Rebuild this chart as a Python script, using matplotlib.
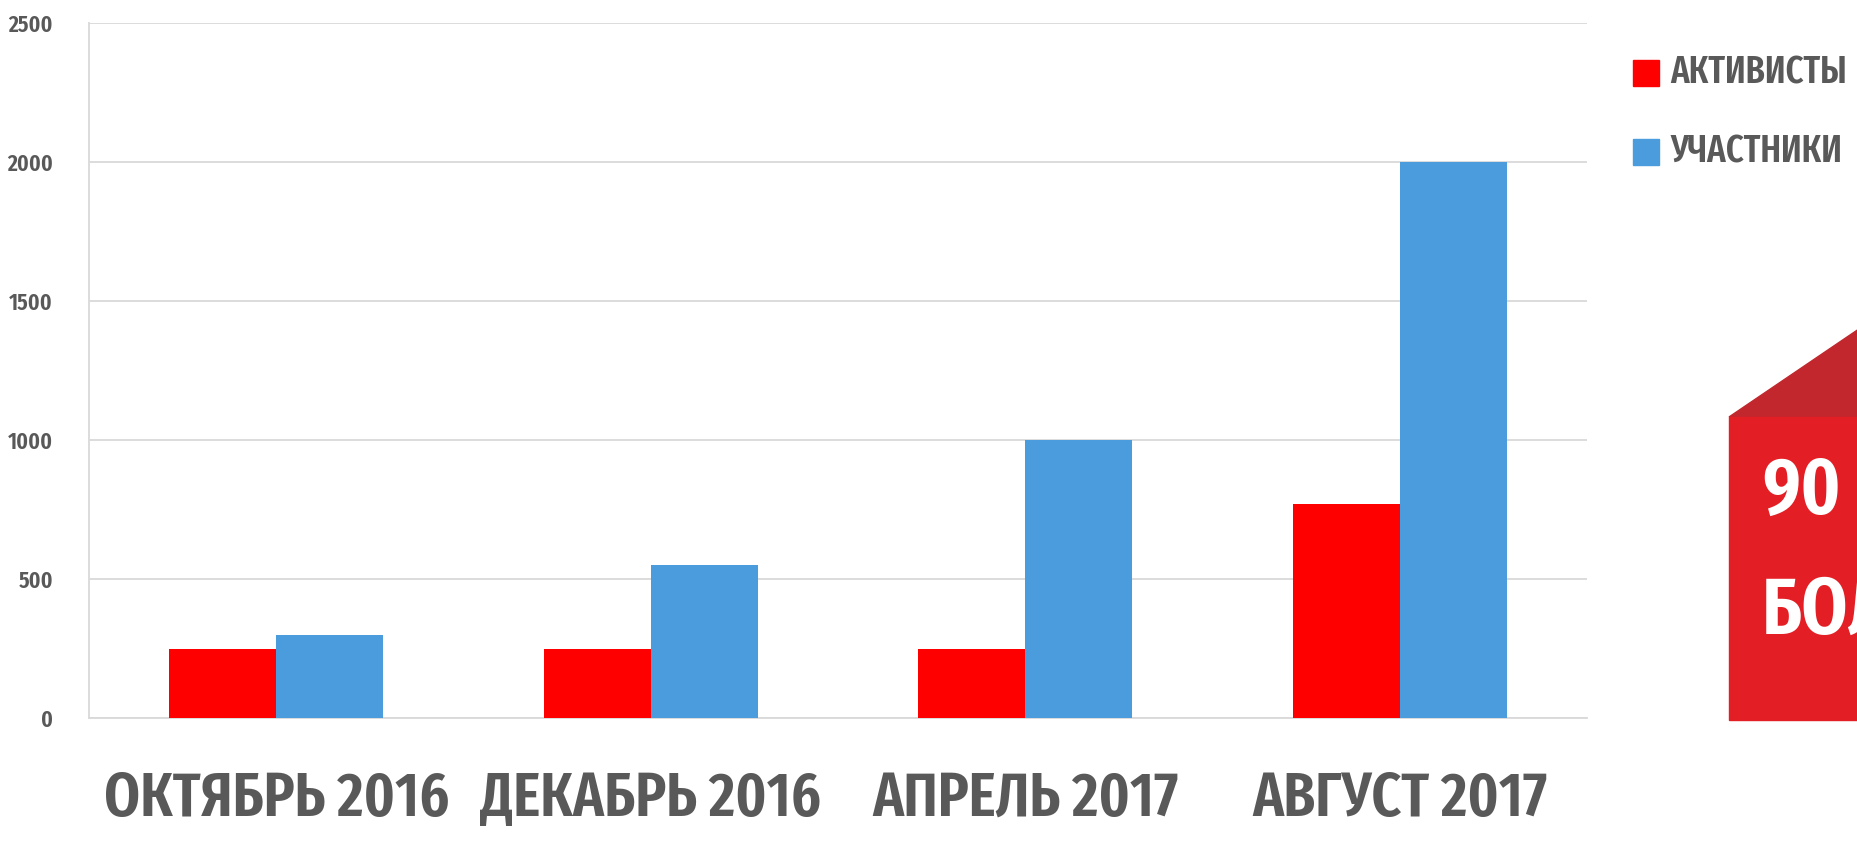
import matplotlib
matplotlib.use("Agg")
import matplotlib.pyplot as plt
import numpy as np
from matplotlib.patches import Polygon, Rectangle

# --- data --------------------------------------------------------------------
categories = ["ОКТЯБРЬ 2016", "ДЕКАБРЬ 2016", "АПРЕЛЬ 2017", "АВГУСТ 2017"]
activists = [250, 250, 250, 770]
participants = [300, 550, 1000, 2000]
series_names = ["АКТИВИСТЫ", "УЧАСТНИКИ"]
y_ticks = [0, 500, 1000, 1500, 2000, 2500]
badge_lines = ["90", "БОЛЕЕ"]

RED = "#FF0000"
BLUE = "#4A9CDD"
GREY_TXT = "#595959"
GRID = "#D9D9D9"
FONT = ["Fira Sans Extra Condensed", "PT Sans Narrow", "DejaVu Sans"]

plt.rcParams["font.family"] = FONT
plt.rcParams["font.weight"] = "semibold"

W, H = 1857, 841
fig = plt.figure(figsize=(W / 100, H / 100), dpi=100)
ax = fig.add_axes([89 / W, 1 - 718 / H, (1587 - 89) / W, (718 - 23) / H])

x = np.arange(len(categories))
bw = 0.286
ax.bar(x - bw / 2, activists, bw, color=RED, label=series_names[0], zorder=3)
ax.bar(x + bw / 2, participants, bw, color=BLUE, label=series_names[1], zorder=3)

ax.set_xlim(-0.5, len(categories) - 0.5)
ax.set_ylim(0, 2500)
ax.set_yticks(y_ticks)
ax.set_yticklabels([str(v) for v in y_ticks], fontsize=17, color=GREY_TXT)
ax.set_xticks(x)
ax.set_xticklabels(categories, fontsize=45, color=GREY_TXT)
ax.tick_params(axis="y", length=0, pad=26)
ax.tick_params(axis="x", length=0, pad=37)
ax.yaxis.grid(True, color=GRID, lw=1.3, zorder=0)
for s in ["top", "right"]:
    ax.spines[s].set_visible(False)
for s in ["left", "bottom"]:
    ax.spines[s].set_color(GRID)
    ax.spines[s].set_linewidth(1.3)

# legend: square swatches + grey labels, clipped at the figure edge as in the crop
for i, (name, col) in enumerate(zip(series_names, [RED, BLUE])):
    yc = 73 + i * 79
    fig.patches.append(Rectangle((1633 / W, 1 - (yc + 13) / H), 26 / W, 26 / H,
                                 transform=fig.transFigure, color=col))
    fig.text(1670 / W, 1 - yc / H, name, fontsize=27, color=GREY_TXT,
             va="center", ha="left")

# red badge on the right
fig.patches.append(Polygon([(1729 / W, 1 - 417 / H), (1 + 1e-3, 1 - 329 / H),
                            (1 + 1e-3, 1 - 417 / H)], closed=True,
                           transform=fig.transFigure, color="#C1272D"))
fig.patches.append(Rectangle((1729 / W, 1 - 720 / H), (W - 1729) / W + 0.01,
                             (720 - 417) / H, transform=fig.transFigure,
                             color="#E31E24"))
fig.text(1762 / W, 1 - 492 / H, badge_lines[0], fontsize=58, color="white",
         va="center", ha="left")
fig.text(1762 / W, 1 - 612 / H, badge_lines[1], fontsize=58, color="white",
         va="center", ha="left")

fig.savefig("out.png", dpi=100, facecolor="white")
